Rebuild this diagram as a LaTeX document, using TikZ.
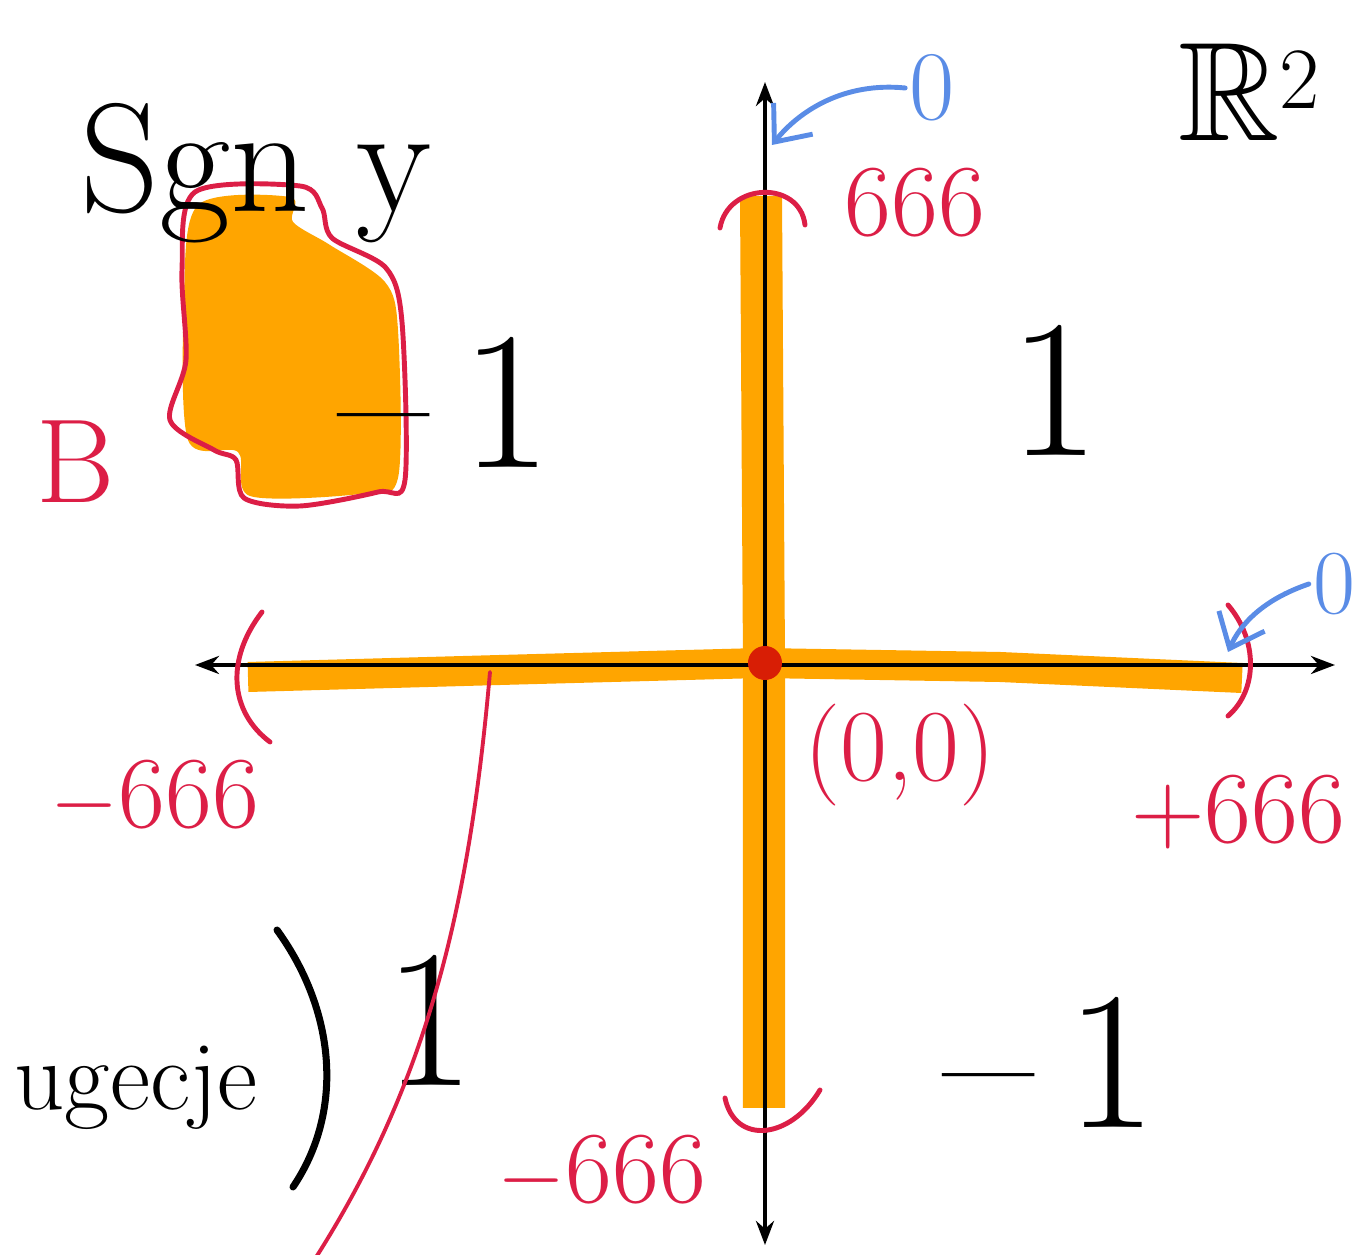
\documentclass[tikz,border=0pt]{standalone}
\usepackage{amssymb}
\usetikzlibrary{positioning,arrows.meta}
\definecolor{ambar}{HTML}{FFA500}
\definecolor{carmin}{HTML}{DC1E46}
\definecolor{celeste}{HTML}{5A8CE6}
\definecolor{punto}{HTML}{D81E05}

\begin{document}
\begin{tikzpicture}[x=0.01cm, y=-0.01cm,
      eje/.style={{Stealth[length=2.4mm]}-{Stealth[length=2.4mm]}, line width=1.1pt},
      banda/.style={draw=ambar, line width=0.3cm},
      rj/.style={draw=carmin, line width=1.4pt, line cap=round},
      az/.style={draw=celeste, line width=1.4pt, line cap=round,
                 -{Straight Barb[length=3mm, width=5mm]}},
      num/.style={text=carmin, font=\fontsize{29}{29}\selectfont, inner sep=1pt},
      val/.style={font=\fontsize{56}{56}\selectfont, inner sep=1pt}]

    \useasboundingbox (0,0) rectangle (1356,1255);

    % --- Bandas naranjas sobre los ejes ----------------------------------
    \draw[banda] (248,677) -- (500,670) -- (760,663) -- (1000,667) -- (1242,678);
    \draw[banda, line width=0.42cm] (761,196) -- (764,660) -- (764,1108);

    % --- Conjunto B -------------------------------------------------------
    \fill[ambar] plot[smooth cycle, tension=0.5] coordinates {(198,205) (290,197) (293,222)
      (330,245) (385,282) (398,330) (398,478) (360,494) (250,496) (238,452) (188,440) (184,300)};
    \draw[rj] plot[smooth cycle, tension=0.5] coordinates {(195,192) (300,186) (322,208)
      (332,238) (386,268) (402,322) (405,480) (378,492) (300,506) (244,498) (236,460)
      (214,450) (170,420) (186,360) (182,270)};

    % --- Ejes -------------------------------------------------------------
    \coordinate (xi) at (195,665);
    \coordinate (xd) at (1335,665);
    \coordinate (ys) at (765,82);
    \coordinate (yi) at (765,1245);
    \coordinate (o) at (765,663);
    \draw[eje] (xi) -- (xd);
    \draw[eje] (ys) -- (yi);
    \fill[punto] (o) circle (0.17cm);

    % --- Intervalos abiertos ---------------------------------------------
    \draw[rj] (262,612) .. controls (225,660) and (230,712) .. (270,742);
    \draw[rj] (1228,605) .. controls (1258,640) and (1258,690) .. (1228,716);
    \draw[rj] (720,228) .. controls (728,182) and (800,180) .. (805,225);
    \draw[rj] (725,1098) .. controls (735,1145) and (790,1140) .. (820,1090);

    % --- Textos -----------------------------------------------------------
    \node[font=\fontsize{44}{44}\selectfont, anchor=base west, inner sep=0pt] (sgn) at (80,212) {Sgn y};
    \node[font=\fontsize{40}{40}\selectfont] (erre) at (1250,92) {$\mathbb{R}^2$};
    \node[text=carmin, font=\fontsize{34}{34}\selectfont] (b) at (76,462) {B};

    \node[val] (uno1) at (1055,390) {1};
    \node[val] (mu1) at (445,402) {--\,1};
    \node[val] (mu2) at (1050,1062) {--\,1};
    \node[val] (uno2) at (430,1020) {1};

    \node[num] (n1) at (915,203) {666};
    \node[num] (n2) at (155,797) {$-$666};
    \node[num] (n3) at (1238,812) {+666};
    \node[num] (n4) at (602,1172) {$-$666};
    \node[num] (ori) at (900,755) {(0,0)};

    \node[text=celeste, font=\fontsize{28}{28}\selectfont, inner sep=1pt] (cero1) at (932,88) {0};
    \node[text=celeste, font=\fontsize{26}{26}\selectfont, inner sep=1pt] (cero2) at (1334,584) {0};

    \node[font=\fontsize{28}{28}\selectfont, anchor=base east, inner sep=0pt] (fun) at (258,1110) {ugecje};

    % --- Flechas azules ---------------------------------------------------
    \coordinate (tope) at (772,145);
    \coordinate (dcha) at (1228,652);
    \draw[az] (cero1.west) .. controls (845,82) and (800,110) .. (tope);
    \draw[az] (cero2.west) .. controls (1262,600) and (1240,625) .. (dcha);

    % --- Parentesis y curva roja -----------------------------------------
    \coordinate (pa) at (277,930);
    \coordinate (pb) at (293,1187);
    \draw[line width=2pt, line cap=round] (pa) .. controls (335,1010) and (345,1110) .. (pb);
    \coordinate (ca) at (490,672);
    \coordinate (cb) at (313,1262);
    \draw[rj, line width=1.1pt] (ca) .. controls (470,900) and (430,1080) .. (cb);
\end{tikzpicture}
\end{document}
